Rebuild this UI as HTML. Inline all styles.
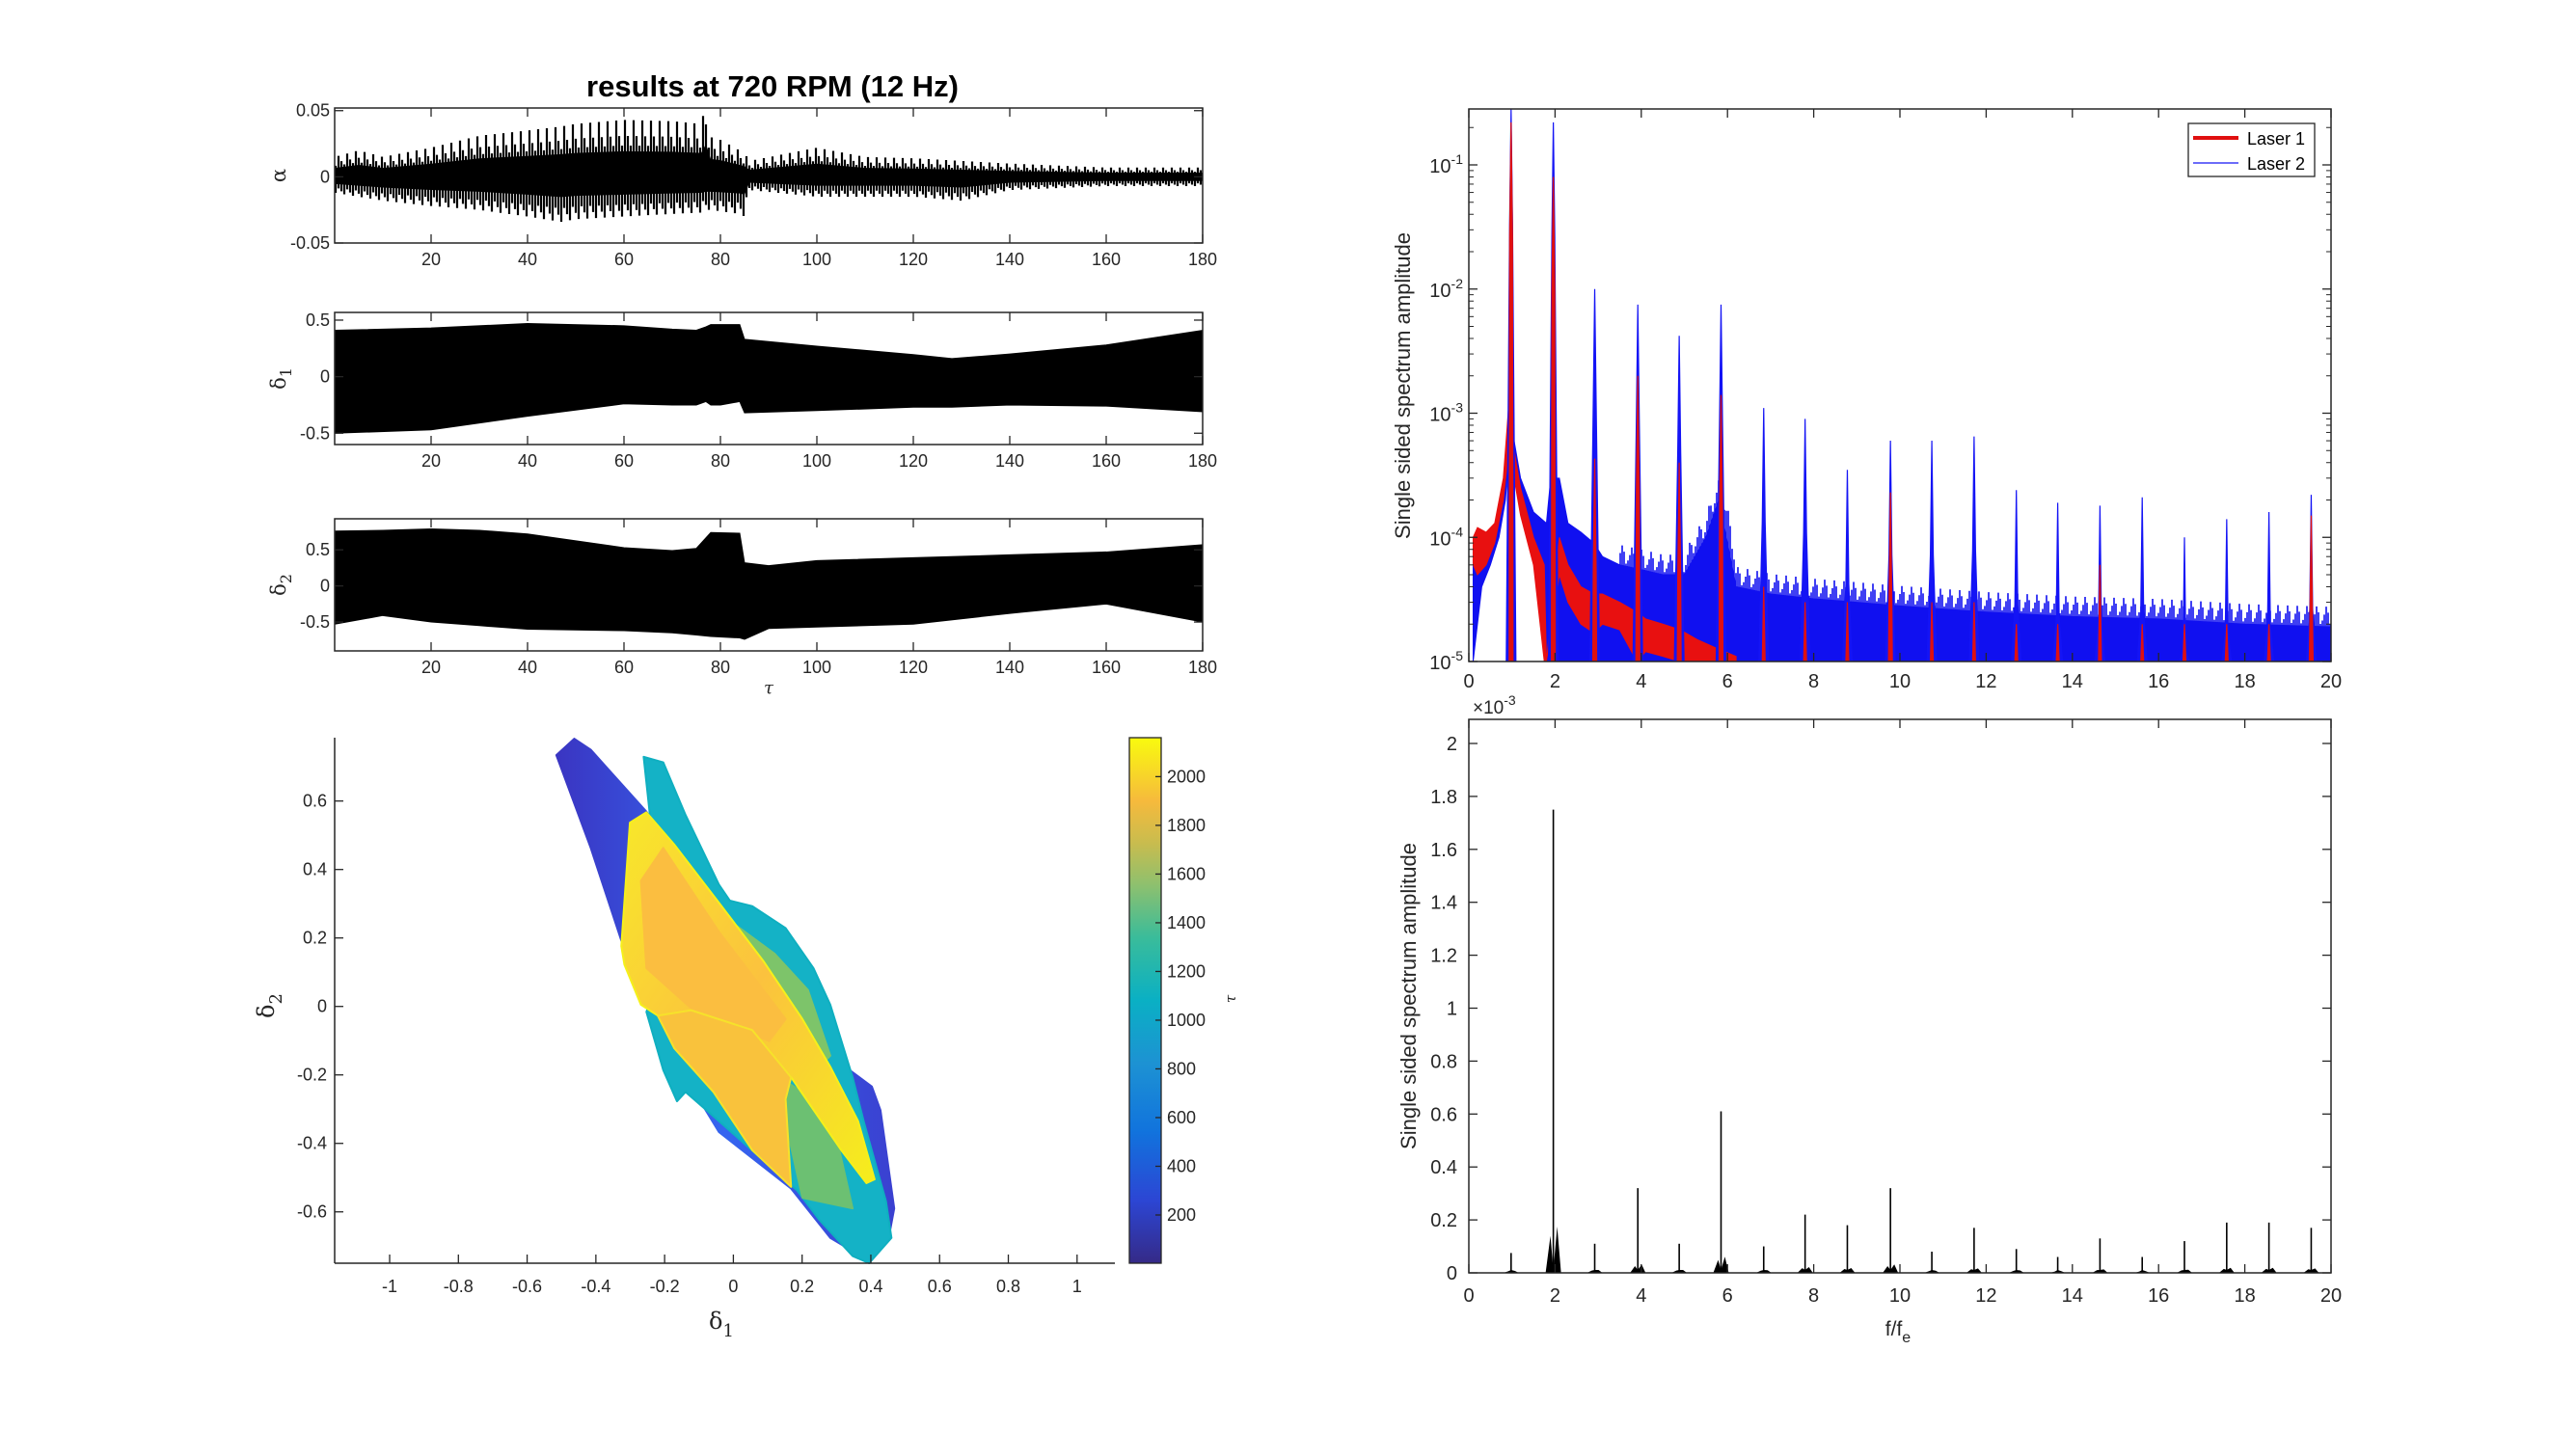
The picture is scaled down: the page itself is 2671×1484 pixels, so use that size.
<!DOCTYPE html>
<html><head><meta charset="utf-8"><style>
html,body{margin:0;padding:0;background:#fff}
svg{display:block;font-family:"Liberation Sans",sans-serif}
</style></head><body>
<svg id="fig" xmlns="http://www.w3.org/2000/svg" width="2671" height="1484" viewBox="0 0 2671 1484">
<defs>
<linearGradient id="parula" x1="0" y1="1" x2="0" y2="0">
<stop offset="0" stop-color="#352A87"/><stop offset="0.12" stop-color="#2C46D4"/><stop offset="0.25" stop-color="#1173DD"/>
<stop offset="0.38" stop-color="#1D92D3"/><stop offset="0.5" stop-color="#0AB0C4"/><stop offset="0.62" stop-color="#3ABC9A"/>
<stop offset="0.72" stop-color="#8EC06E"/><stop offset="0.8" stop-color="#C9BC4E"/><stop offset="0.88" stop-color="#F6BA3C"/>
<stop offset="1" stop-color="#F9FB0E"/></linearGradient>
<linearGradient id="purp" x1="0" y1="0" x2="1" y2="0"><stop offset="0" stop-color="#3A35C2"/><stop offset="0.5" stop-color="#3565F0"/><stop offset="1" stop-color="#3A40D0"/></linearGradient>
<linearGradient id="yel" x1="0" y1="0" x2="1" y2="1"><stop offset="0" stop-color="#F8E82A"/><stop offset="0.5" stop-color="#FBC23E"/><stop offset="1" stop-color="#F5EE1C"/></linearGradient>
</defs>
<g id="root"></g>
</svg>
<script>
// ---------- data ----------
const tauTicks=[20,40,60,80,100,120,140,160,180];
const alphaTau=[0,5,10,20,30,40,47,50,60,70,76,77,78,80,84,85,86,100,110,120,130,140,160,180];
const alphaUp=[0.015,0.02,0.015,0.022,0.031,0.035,0.038,0.04,0.043,0.042,0.04,0.055,0.03,0.028,0.02,0.018,0.012,0.022,0.015,0.014,0.012,0.01,0.007,0.007];
const alphaLo=[-0.012,-0.015,-0.018,-0.022,-0.025,-0.03,-0.034,-0.032,-0.03,-0.028,-0.027,-0.025,-0.025,-0.026,-0.028,-0.03,-0.01,-0.015,-0.015,-0.015,-0.018,-0.01,-0.007,-0.007];
const d1Tau=[0,20,40,60,70,75,77,78,80,84,85,100,120,128,140,160,180];
const d1Up=[0.41,0.43,0.47,0.45,0.42,0.41,0.44,0.46,0.46,0.46,0.33,0.27,0.195,0.16,0.2,0.28,0.41];
const d1Lo=[-0.5,-0.47,-0.35,-0.24,-0.25,-0.25,-0.22,-0.25,-0.25,-0.22,-0.32,-0.3,-0.27,-0.27,-0.25,-0.26,-0.31];
const d2Tau=[0,10,20,30,40,60,70,75,78,84,85,90,100,120,140,160,180];
const d2Up=[0.76,0.77,0.79,0.77,0.72,0.53,0.49,0.52,0.74,0.73,0.32,0.28,0.35,0.39,0.43,0.47,0.57];
const d2Lo=[-0.53,-0.41,-0.5,-0.55,-0.6,-0.62,-0.65,-0.68,-0.7,-0.72,-0.74,-0.59,-0.57,-0.53,-0.38,-0.25,-0.5];
// spectrum (log)
const harmF=[0.98,1.96,2.92,3.92,4.88,5.85,6.84,7.8,8.78,9.78,10.74,11.72,12.7,13.66,14.64,15.62,16.6,17.58,18.56,19.54];
const blueAmp=[0.28,0.22,0.01,0.0075,0.0042,0.0075,0.0011,0.0009,0.00035,0.0006,0.0006,0.00065,0.00024,0.00019,0.00018,0.00021,0.0001,0.00014,0.00016,0.00022];
const redAmp=[0.22,0.08,0.00043,0.002,0.0004,0.0014,0.00004,0.00003,0.00003,0.00023,0.00003,0.00003,0.00002,0.00002,0.00006,0.00002,0.00002,0.00002,0.00002,0.00015];
const blueF=[0.1,0.3,0.5,0.7,0.85,0.95,1.05,1.2,1.5,1.8,1.9,2.1,2.3,2.6,2.9,3.1,3.5,4,4.5,5,5.5,5.8,6.2,7,8,9,10,12,14,16,18,20];
const blueTop=[8e-5,7e-5,9e-5,1.5e-4,3e-4,1e-3,6e-4,3e-4,1.6e-4,1.3e-4,3e-4,3e-4,1.3e-4,1.1e-4,9e-5,7e-5,6e-5,5.5e-5,5e-5,5e-5,1e-4,2e-4,4e-5,3.5e-5,3.2e-5,3e-5,2.8e-5,2.5e-5,2.3e-5,2.2e-5,2e-5,1.9e-5];
const blueBot=[1e-5,4e-5,6e-5,1e-4,2e-4,6e-4,4e-4,2e-4,1e-4,1e-5,1e-5,1e-5,1e-5,1e-5,1e-5,1e-5,1e-5,1e-5,1e-5,1e-5,1e-5,1e-5,1e-5,1e-5,1e-5,1e-5,1e-5,1e-5,1e-5,1e-5,1e-5,1e-5];
const redF=[0.1,0.2,0.4,0.6,0.8,0.95,1.05,1.2,1.5,1.75,1.8,2.1,2.3,2.6,2.9,3.1,3.5,3.9,4.1,4.5,4.9,5.3,5.7,6.2];
const redTop=[1e-4,1.2e-4,1.1e-4,1.3e-4,3e-4,1.5e-3,5e-4,2.5e-4,1e-4,6e-5,1e-5,1e-4,6e-5,4e-5,3.5e-5,3.5e-5,3e-5,2.5e-5,2.2e-5,2e-5,1.8e-5,1.5e-5,1.3e-5,1.1e-5];
const redBot=[6e-5,5e-5,6e-5,9e-5,2e-4,6e-4,3e-4,1.5e-4,6e-5,1e-5,1e-5,5e-5,3e-5,2e-5,1.7e-5,2e-5,1.8e-5,1e-5,1.2e-5,1.1e-5,1e-5,1e-5,1e-5,1e-5];
const fTicks=[0,2,4,6,8,10,12,14,16,18,20];
const logTicks=[-5,-4,-3,-2,-1];
// spectrum (linear, x1e-3)
const linAmp=[0.075,1.75,0.11,0.32,0.11,0.61,0.1,0.22,0.18,0.32,0.08,0.17,0.09,0.06,0.13,0.06,0.12,0.19,0.19,0.17];
const linTicks=[0,0.2,0.4,0.6,0.8,1,1.2,1.4,1.6,1.8,2];
// phase portrait polygons (delta1, delta2)
const purpleX=[-0.515,-0.463,-0.415,-0.253,-0.042,0.282,0.403,0.428,0.468,0.452,0.387,0.282,0.168,-0.042,-0.139,-0.317,-0.415];
const purpleY=[0.734,0.782,0.75,0.569,0.282,-0.144,-0.234,-0.303,-0.59,-0.676,-0.739,-0.676,-0.532,-0.367,-0.207,0.165,0.463];
const cyanX=[-0.261,-0.204,-0.139,-0.042,-0.01,0.055,0.152,0.233,0.282,0.347,0.379,0.444,0.46,0.395,0.347,0.249,0.185,-0.042,-0.139,-0.164,-0.204,-0.253,-0.172,-0.236];
const cyanY=[0.729,0.713,0.559,0.356,0.309,0.293,0.229,0.112,0.005,-0.207,-0.335,-0.569,-0.676,-0.75,-0.729,-0.622,-0.537,-0.335,-0.25,-0.277,-0.186,-0.016,0.218,0.495];
const greenX=[-0.01,0.12,0.217,0.282,0.217,0.087];
const greenY=[0.25,0.154,0.048,-0.144,-0.207,-0.059];
const green2X=[0.168,0.282,0.347,0.201,0.144];
const green2Y=[-0.229,-0.303,-0.59,-0.559,-0.303];
const yellowX=[-0.326,-0.301,-0.253,-0.172,-0.042,0.087,0.201,0.282,0.363,0.411,0.387,0.314,0.168,-0.042,-0.204,-0.269,-0.317];
const yellowY=[0.176,0.537,0.567,0.473,0.303,0.133,-0.037,-0.176,-0.335,-0.505,-0.516,-0.42,-0.207,-0.09,-0.037,0.005,0.122];
const orangeX=[-0.269,-0.204,-0.042,0.152,0.104,-0.123,-0.253];
const orangeY=[0.367,0.463,0.218,-0.037,-0.101,-0.005,0.112];
const orange2X=[-0.22,-0.123,0.055,0.168,0.152,0.168,0.055,-0.058,-0.172];
const orange2Y=[-0.027,-0.011,-0.069,-0.207,-0.271,-0.527,-0.42,-0.25,-0.122];
const d1Ticks=[-1,-0.8,-0.6,-0.4,-0.2,0,0.2,0.4,0.6,0.8,1];
const d2Ticks=[-0.6,-0.4,-0.2,0,0.2,0.4,0.6];
const cbTicks=[200,400,600,800,1000,1200,1400,1600,1800,2000];

// ---------- helpers ----------
const NS="http://www.w3.org/2000/svg";
const root=document.getElementById('root');
function mk(tag,attrs,parent,text){const e=document.createElementNS(NS,tag);for(const k in attrs)e.setAttribute(k,attrs[k]);if(text!==undefined)e.textContent=text;(parent||root).appendChild(e);return e;}
function lin(d0,d1,p0,p1){return v=>p0+(v-d0)/(d1-d0)*(p1-p0);}
function fmt(v){return String(Math.round(v*100)/100);}
function axesBox(g,x0,y0,x1,y1){mk('rect',{x:x0,y:y0,width:x1-x0,height:y1-y0,fill:'none',stroke:'#262626','stroke-width':1.5},g);}
function interp(xs,ys,x){for(let i=1;i<xs.length;i++){if(x<=xs[i]){const t=(x-xs[i-1])/(xs[i]-xs[i-1]);return ys[i-1]+t*(ys[i]-ys[i-1]);}}return ys[ys.length-1];}

// ---------- time series ----------
function timeSeries(name,y0,y1,ylim,up,lo,tt,yt,ylab,sub,spiky){
  const g=mk('g',{});
  
  
  const X=lin(0,180,347,1247), Y=lin(ylim[0],ylim[1],y1,y0);
  if(spiky){
    let d='';
    for(let px=348;px<1247;px+=3){const t=(px-347)/900*180;const k=((px/3)|0)%3;const s=k===0?1:(k===1?0.72:0.55);
      const u=interp(tt,up,t)*s, l=interp(tt,lo,t)*(k===2?1:(k===0?0.7:0.85));
      d+=`M${px},${Y(u)}L${px},${Y(l)}`;}
    const p=mk('path',{d:d,stroke:'#000','stroke-width':2.2,fill:'none'},g);
    
    
    const core=mk('path',{d:'M'+tt.map((t,i)=>X(t)+','+Y(up[i]*0.45)).join('L')+[...tt].reverse().map((t,j)=>'L'+X(t)+','+Y(lo[tt.length-1-j]*0.45)).join('')+'Z',fill:'#000'},g);
    
    
  } else {
    let d='M'+tt.map((t,i)=>X(t)+','+Y(up[i])).join('L');
    for(let i=tt.length-1;i>=0;i--)d+='L'+X(tt[i])+','+Y(lo[i]);
    const p=mk('path',{d:d+'Z',fill:'#000',stroke:'#000','stroke-width':1},g);
    
    
  }
  axesBox(g,347,y0,1247,y1);
  tauTicks.forEach(t=>{mk('line',{x1:X(t),x2:X(t),y1:y1,y2:y1-9,stroke:'#262626','stroke-width':1.3},g);mk('line',{x1:X(t),x2:X(t),y1:y0,y2:y0+9,stroke:'#262626','stroke-width':1.3},g);
    mk('text',{x:X(t),y:y1+23,'font-size':18,'text-anchor':'middle',fill:'#262626'},g,String(t));});
  yt.forEach(v=>{mk('line',{x1:347,x2:356,y1:Y(v),y2:Y(v),stroke:'#262626','stroke-width':1.3},g);mk('line',{x1:1247,x2:1238,y1:Y(v),y2:Y(v),stroke:'#262626','stroke-width':1.3},g);
    mk('text',{x:342,y:Y(v)+6,'font-size':18,'text-anchor':'end',fill:'#262626'},g,fmt(v));});
  const cy=(y0+y1)/2;
  const lt=mk('text',{x:0,y:0,'font-size':21,'font-family':'"DejaVu Serif",serif',transform:`translate(296,${cy}) rotate(-90)`,'text-anchor':'middle',fill:'#262626'},g);
  mk('tspan',{},lt,ylab);
  if(sub)mk('tspan',{dy:6,'font-size':16},lt,sub);
}
const title=mk('text',{x:801,y:100,'font-size':31,'font-weight':'bold','text-anchor':'middle',fill:'#000'},root,'results at 720 RPM (12 Hz)');


timeSeries('alpha-plot',112,252,[-0.05,0.052],alphaUp,alphaLo,alphaTau,[-0.05,0,0.05],'α',null,true);
timeSeries('delta1-plot',324,461,[-0.60,0.568],d1Up,d1Lo,d1Tau,[-0.5,0,0.5],'δ','1');
timeSeries('delta2-plot',538,675,[-0.9,0.93],d2Up,d2Lo,d2Tau,[-0.5,0,0.5],'δ','2');
const tl=mk('text',{x:797,y:719,'font-size':18,'font-style':'italic','font-family':'"DejaVu Serif",serif','text-anchor':'middle',fill:'#262626'},root,'τ');



// ---------- phase portrait ----------
(function(){
  const g=mk('g',{});
  
  
  const X=lin(-1.16,1.11,347,1156), Y=lin(-0.75,0.785,1310,765);
  function poly(xs,ys,fill,nm,stroke){const p=mk('polygon',{points:xs.map((x,i)=>X(x)+','+Y(ys[i])).join(' '),fill:fill,stroke:stroke||fill,'stroke-width':2,'stroke-linejoin':'round'},g);
    
    }
  poly(purpleX,purpleY,'url(#purp)','trajectory-early');
  poly(cyanX,cyanY,'#14B2C6','trajectory-mid','#0FAFC0');
  poly(greenX,greenY,'#7DC46A','trajectory-green');
  poly(green2X,green2Y,'#6CC072','trajectory-green-lower');
  poly(yellowX,yellowY,'url(#yel)','trajectory-late','#F5F01A');
  poly(orangeX,orangeY,'#FBBE40','trajectory-late-core');
  poly(orange2X,orange2Y,'#F9C23C','trajectory-late-lower','#F6E22A');
  mk('line',{x1:347,x2:347,y1:765,y2:1310,stroke:'#262626','stroke-width':1.5},g);
  mk('line',{x1:347,x2:1156,y1:1310,y2:1310,stroke:'#262626','stroke-width':1.5},g);
  d1Ticks.forEach(v=>{mk('line',{x1:X(v),x2:X(v),y1:1310,y2:1301,stroke:'#262626','stroke-width':1.3},g);
    mk('text',{x:X(v),y:1340,'font-size':18,'text-anchor':'middle',fill:'#262626'},g,fmt(v));});
  d2Ticks.forEach(v=>{mk('line',{x1:347,x2:356,y1:Y(v),y2:Y(v),stroke:'#262626','stroke-width':1.3},g);
    mk('text',{x:339,y:Y(v)+6,'font-size':18,'text-anchor':'end',fill:'#262626'},g,fmt(v));});
  const xl=mk('text',{x:748,y:1378,'font-size':24,'font-family':'"DejaVu Serif",serif','text-anchor':'middle',fill:'#262626'},g);
  mk('tspan',{},xl,'δ');mk('tspan',{dy:8,'font-size':18},xl,'1');
  const yl=mk('text',{x:0,y:0,'font-size':24,'font-family':'"DejaVu Serif",serif','text-anchor':'middle',transform:'translate(284,1043) rotate(-90)',fill:'#262626'},g);
  mk('tspan',{},yl,'δ');mk('tspan',{dy:8,'font-size':18},yl,'2');
  const C=lin(2,2160,1310,765);
  const cb=mk('rect',{x:1171,y:765,width:33,height:545,fill:'url(#parula)',stroke:'#262626','stroke-width':1.3},g);
  
  
  cbTicks.forEach(v=>{mk('line',{x1:1198,x2:1204,y1:C(v),y2:C(v),stroke:'#262626','stroke-width':1.3},g);
    mk('text',{x:1210,y:C(v)+6,'font-size':18,fill:'#262626'},g,String(v));});
  mk('text',{x:0,y:0,'font-size':15,'font-style':'italic','font-family':'"DejaVu Serif",serif',transform:'translate(1281,1036) rotate(-90)',fill:'#262626','text-anchor':'middle'},g,'τ');
})();

// ---------- log spectrum ----------
(function(){
  const g=mk('g',{});
  
  
  const x0=1523,x1=2417,y0=113,y1=686;
  const X=lin(0,20,x0,x1), LY=lin(-5,-1,y1,171);
  const Y=v=>Math.min(y1,Math.max(y0,LY(Math.log10(v))));
  const cp=mk('clipPath',{id:'clipLog'},g);
  mk('rect',{x:x0,y:y0,width:x1-x0,height:y1-y0},cp);
  const pg=mk('g',{'clip-path':'url(#clipLog)'},g);
  function band(fs,top,bot,col,nm){let d='M'+fs.map((f,i)=>X(f)+','+Y(top[i])).join('L');for(let i=fs.length-1;i>=0;i--)d+='L'+X(fs[i])+','+Y(bot[i]);
    const p=mk('path',{d:d+'Z',fill:col,stroke:col,'stroke-width':1},pg);
    
    }
  function grass(fs,top,col,nm){let d='';for(let px=x0+1;px<x1;px+=2){const f=(px-x0)/(x1-x0)*20;if(f<fs[0]||f>fs[fs.length-1])continue;const k=((px*7)>>1)%5;const s=[1.25,1.05,1.45,1.12,1.3][k];
      d+=`M${px},${y1}L${px},${Y(interp(fs,top,f)*s)}`;}
    const p=mk('path',{d:d,stroke:col,'stroke-width':1.6,fill:'none'},pg);
    
    }
  function peaks(amps,col,nm,w){amps.forEach((a,i)=>{const f=harmF[i];const xc=X(f);
    const p=mk('path',{d:`M${xc-w},${y1}L${xc-1.5},${Y(a*0.12)}L${xc},${Y(a)}L${xc+1.5},${Y(a*0.12)}L${xc+w},${y1}Z`,fill:col,stroke:col,'stroke-width':1.2},pg);
    
    });}
  band(blueF,blueTop,blueBot,'#1010F0','laser2-noise');
  grass(blueF.slice(16),blueTop.slice(16),'#1010F0','laser2-noise-spikes');
  band(redF,redTop,redBot,'#E81010','laser1-noise');
  peaks(blueAmp,'#1414F5','laser2',5);
  peaks(redAmp,'#E01010','laser1',2);
  axesBox(g,x0,y0,x1,y1);
  fTicks.forEach(f=>{mk('line',{x1:X(f),x2:X(f),y1:y1,y2:y1-9,stroke:'#262626','stroke-width':1.3},g);mk('line',{x1:X(f),x2:X(f),y1:y0,y2:y0+9,stroke:'#262626','stroke-width':1.3},g);
    mk('text',{x:X(f),y:y1+27,'font-size':20,'text-anchor':'middle',fill:'#262626'},g,String(f));});
  logTicks.forEach(e=>{const y=LY(e);mk('line',{x1:x0,x2:x0+9,y1:y,y2:y,stroke:'#262626','stroke-width':1.3},g);mk('line',{x1:x1,x2:x1-9,y1:y,y2:y,stroke:'#262626','stroke-width':1.3},g);
    for(let m=2;m<10;m++){const ym=LY(e+Math.log10(m));if(ym>y0){mk('line',{x1:x0,x2:x0+5,y1:ym,y2:ym,stroke:'#262626','stroke-width':1},g);mk('line',{x1:x1,x2:x1-5,y1:ym,y2:ym,stroke:'#262626','stroke-width':1},g);}}
    const t=mk('text',{x:x0-6,y:y+8,'font-size':20,'text-anchor':'end',fill:'#262626'},g,'10');mk('tspan',{dy:-9,'font-size':14},t,String(e));});
  mk('text',{x:0,y:0,'font-size':22,transform:'translate(1462,400) rotate(-90)','text-anchor':'middle',fill:'#262626'},g,'Single sided spectrum amplitude');
  const lg=mk('g',{},g);
  
  
  mk('rect',{x:2269,y:128,width:131,height:55,fill:'#fff',stroke:'#262626','stroke-width':1.3},lg);
  mk('line',{x1:2274,x2:2321,y1:143,y2:143,stroke:'#E01010','stroke-width':4},lg);
  mk('line',{x1:2274,x2:2321,y1:169,y2:169,stroke:'#1414F5','stroke-width':1.3},lg);
  mk('text',{x:2330,y:150,'font-size':18,fill:'#000'},lg,'Laser 1');
  mk('text',{x:2330,y:176,'font-size':18,fill:'#000'},lg,'Laser 2');
})();

// ---------- linear spectrum ----------
(function(){
  const g=mk('g',{});
  
  
  const x0=1523,x1=2417,y0=746,y1=1320;
  const X=lin(0,20,x0,x1), Y=lin(0,2,y1,771);
  linAmp.forEach((a,i)=>{const xc=X(harmF[i]);
    const l=mk('line',{x1:xc,x2:xc,y1:y1,y2:Y(a),stroke:'#000','stroke-width':1.6},g);
    
    
    mk('path',{d:`M${xc-8},${y1}L${xc-3},${Y(a*0.08)}L${xc},${y1-3}L${xc+4},${Y(a*0.1)}L${xc+8},${y1}Z`,fill:'#000'},g);});
  axesBox(g,x0,y0,x1,y1);
  fTicks.forEach(f=>{mk('line',{x1:X(f),x2:X(f),y1:y1,y2:y1-9,stroke:'#262626','stroke-width':1.3},g);mk('line',{x1:X(f),x2:X(f),y1:y0,y2:y0+9,stroke:'#262626','stroke-width':1.3},g);
    mk('text',{x:X(f),y:y1+30,'font-size':20,'text-anchor':'middle',fill:'#262626'},g,String(f));});
  linTicks.forEach(v=>{const y=Y(v);mk('line',{x1:x0,x2:x0+9,y1:y,y2:y,stroke:'#262626','stroke-width':1.3},g);mk('line',{x1:x1,x2:x1-9,y1:y,y2:y,stroke:'#262626','stroke-width':1.3},g);
    mk('text',{x:x0-12,y:y+7,'font-size':20,'text-anchor':'end',fill:'#262626'},g,fmt(v));});
  const m=mk('text',{x:1527,y:740,'font-size':19,fill:'#262626'},g,'×10');mk('tspan',{dy:-9,'font-size':14},m,'-3');
  mk('text',{x:0,y:0,'font-size':22,transform:'translate(1468,1033) rotate(-90)','text-anchor':'middle',fill:'#262626'},g,'Single sided spectrum amplitude');
  const fx=mk('text',{x:1968,y:1385,'font-size':21,'text-anchor':'middle',fill:'#262626'},g,'f/f');mk('tspan',{dy:7,'font-size':16},fx,'e');
})();
</script>
</body></html>
